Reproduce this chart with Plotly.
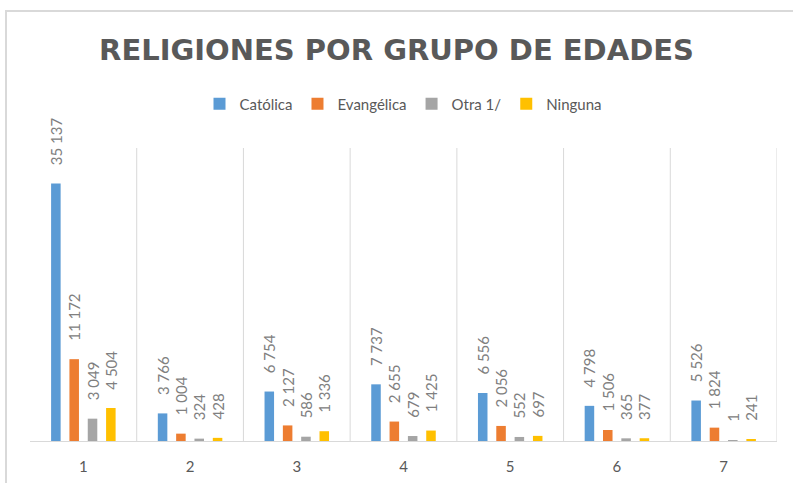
import plotly.graph_objects as go

categories = ["1", "2", "3", "4", "5", "6", "7"]
catolica = [35137, 3766, 6754, 7737, 6556, 4798, 5526]
evangelica = [11172, 1004, 2127, 2655, 2056, 1506, 1824]
otra = [3049, 324, 586, 679, 552, 365, 1]
ninguna = [4504, 428, 1336, 1425, 697, 377, 241]

series = [
    ("Católica", catolica, "#5B9BD5"),
    ("Evangélica", evangelica, "#ED7D31"),
    ("Otra 1/", otra, "#A5A5A5"),
    ("Ninguna", ninguna, "#FFC000"),
]

FONT = "Lato"
PAD = "\u00a0" * 4  # gap between bar end and rotated label
fig = go.Figure()
for name, vals, color in series:
    fig.add_trace(go.Bar(
        x=categories, y=vals, name=name,
        marker=dict(color=color, line=dict(width=0)),
        texttemplate=PAD + "%{y:,}", textposition="outside", textangle=-90,
        textfont=dict(family=FONT, size=15, color="#808080"),
        constraintext="none", cliponaxis=False,
    ))

# category separators (between categories and at the right edge)
separators = [dict(type="line", xref="x", yref="paper",
                   x0=i + 0.5, x1=i + 0.5, y0=0, y1=1,
                   line=dict(color="#d9d9d9", width=1), layer="below")
              for i in range(len(categories))]

fig.update_layout(
    width=793, height=483,
    margin=dict(l=30, r=16, t=148, b=42),
    paper_bgcolor="white", plot_bgcolor="white",
    separators=", ",
    barmode="group", bargap=0.313, bargroupgap=0.48,
    title=dict(text="<b>RELIGIONES POR GRUPO DE EDADES</b>",
               x=0.5, xanchor="center", y=1 - 50 / 483, yanchor="middle",
               font=dict(family="DejaVu Sans", size=29, color="#595959")),
    legend=dict(orientation="h", x=0.5, xanchor="center", y=1.15, yanchor="middle",
                font=dict(family=FONT, size=15, color="#595959"),
                itemwidth=30, tracegroupgap=0),
    xaxis=dict(showline=True, linecolor="#d9d9d9", linewidth=1, automargin=False,
               showgrid=False, ticks="", ticklabelstandoff=12,
               range=[-0.5, len(categories) - 0.5],
               tickfont=dict(family=FONT, size=15, color="#595959")),
    yaxis=dict(range=[0, 40000], visible=False, showgrid=False, automargin=False),
    shapes=[dict(type="rect", xref="paper", yref="paper",
                 x0=-24 / 747, x1=1.1, y0=-0.2, y1=1 + (148 - 11) / 293,
                 line=dict(color="#d9d9d9", width=2), layer="below")] + separators,
)

fig.write_html("out.html")
